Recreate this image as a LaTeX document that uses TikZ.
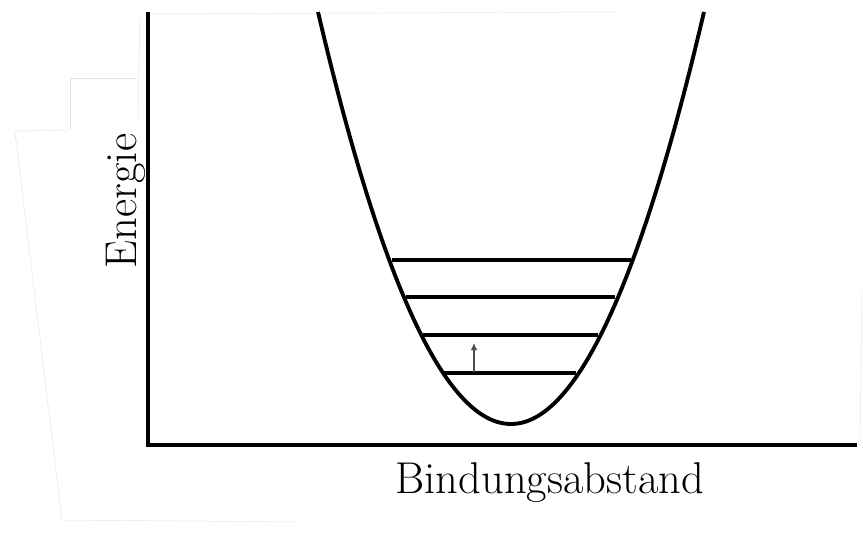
\documentclass[tikz,border=0pt]{standalone}
\usetikzlibrary{arrows.meta}
\begin{document}
\begin{tikzpicture}[x=0.03cm,y=-0.03cm,
  axis/.style={line width=2.8pt,line cap=rect},
  curve/.style={line width=3.3pt},
  level/.style={line width=2.6pt},
  excite/.style={gray!60!black,line width=0.9pt,-{Latex[length=6pt,width=5.5pt]}},
  faint/.style={gray!22,line width=0.4pt},
  lbl/.style={font=\fontsize{38}{44}\selectfont,inner sep=0pt}]
\useasboundingbox (0,0) rectangle (863,534);
% faint edges of the scan
\draw[faint] (143,14) -- (620,12);
\draw[faint] (140,14) -- (138,120);
\draw[faint] (70,78) -- (137,78);
\draw[faint] (70,78) -- (70,130);
\draw[faint] (15,131) -- (70,130);
\draw[faint] (15,132) -- (62,520) -- (300,522);
\draw[faint] (862,290) -- (860,445) -- (856,446);
% axes
\coordinate (ytop) at (148,14);
\coordinate (origin) at (148,445);
\coordinate (xend) at (855,445);
\draw[axis] (ytop) -- (origin) -- (xend);
% potential curve
\draw[curve,smooth,samples=80,domain=-19.3:19.3,variable=\t] plot ({511+10*\t},{424-1.1062*\t*\t});
% vibrational levels
\coordinate (l1a) at (444,373); \coordinate (l1b) at (576,373);
\coordinate (l2a) at (423,335); \coordinate (l2b) at (598,335);
\coordinate (l3a) at (406,297); \coordinate (l3b) at (615,297);
\coordinate (l4a) at (392,260); \coordinate (l4b) at (631,260);
\draw[level] (l1a) -- (l1b);
\draw[level] (l2a) -- (l2b);
\draw[level] (l3a) -- (l3b);
\draw[level] (l4a) -- (l4b);
% excitation arrow
\coordinate (arrS) at (474,371.5);
\coordinate (arrE) at (474,343);
\draw[excite] (arrS) -- (arrE);
% labels
\node[lbl,rotate=90,anchor=south] (ylab) at (146,201) {Energie};
\node[lbl,anchor=base] (xlab) at (550,493) {Bindungsabstand};
\end{tikzpicture}
\end{document}
